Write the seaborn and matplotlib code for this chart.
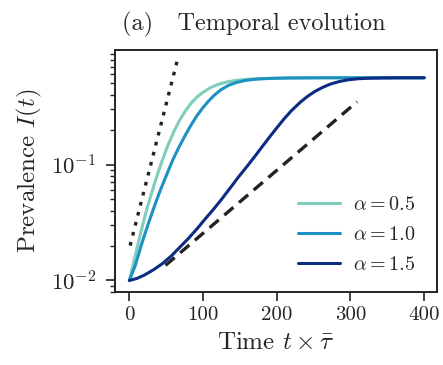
import numpy as np
import pandas as pd
import matplotlib
matplotlib.use("Agg")
import matplotlib.pyplot as plt
import seaborn as sns

# Values
alpha_labels = [r"$\alpha = 0.5$", r"$\alpha = 1.0$", r"$\alpha = 1.5$"]
line_colors = ["#7fcdbb", "#1d91c0", "#0c2c84"]

t_a05 = [0, 6, 12, 18, 24, 31, 38, 45, 52, 60, 68, 76, 84, 92, 100, 110, 120,
         132, 145, 160, 180, 200, 230, 280, 400]
I_a05 = [0.010, 0.0145, 0.021, 0.030, 0.042, 0.059, 0.082, 0.11, 0.145, 0.19,
         0.24, 0.29, 0.34, 0.383, 0.42, 0.46, 0.49, 0.515, 0.532, 0.543, 0.551,
         0.555, 0.558, 0.56, 0.56]

t_a10 = [0, 8, 17, 25, 33, 42, 51, 59, 67, 75, 83, 91, 99, 107, 115, 124, 134,
         145, 158, 172, 190, 215, 260, 400]
I_a10 = [0.010, 0.0135, 0.021, 0.030, 0.042, 0.060, 0.083, 0.11, 0.14, 0.175,
         0.215, 0.26, 0.305, 0.35, 0.395, 0.44, 0.48, 0.51, 0.532, 0.545,
         0.553, 0.558, 0.56, 0.56]

t_a15 = [0, 10, 20, 33, 45, 57, 69, 80, 92, 103, 114, 126, 137, 148, 160, 170,
         180, 190, 200, 210, 220, 232, 242, 252, 262, 273, 285, 297, 310, 325,
         345, 370, 400]
I_a15 = [0.010, 0.0104, 0.0111, 0.0124, 0.0140, 0.0163, 0.0195, 0.023, 0.028,
         0.034, 0.041, 0.051, 0.063, 0.078, 0.097, 0.117, 0.142, 0.172, 0.207,
         0.248, 0.292, 0.345, 0.388, 0.428, 0.462, 0.495, 0.520, 0.538, 0.549,
         0.555, 0.558, 0.56, 0.56]

# guide lines (early and late growth rates)
t_dotted = [1, 65]
I_dotted = [0.020, 0.79]
t_dashed = [49, 309]
I_dashed = [0.0135, 0.348]

xticks = [0, 100, 200, 300, 400]

# Build long table for seaborn
frames = []
for lab, t, I in zip(alpha_labels, [t_a05, t_a10, t_a15], [I_a05, I_a10, I_a15]):
    frames.append(pd.DataFrame({"t": t, "I": I, "alpha": lab}))
df = pd.concat(frames, ignore_index=True)

sns.set_theme(style="ticks")
plt.rcParams["font.family"] = "serif"
plt.rcParams["font.serif"] = ["cmr10", "DejaVu Serif"]
plt.rcParams["mathtext.fontset"] = "cm"
plt.rcParams["axes.formatter.use_mathtext"] = True

fig = plt.figure(figsize=(4.43, 3.65), dpi=100)
ax = fig.add_axes([0.2596, 0.2008, 0.727, 0.6622])

ax.plot(t_dotted, I_dotted, color="#222222", lw=2.4, dashes=(1.1, 2.0), zorder=1)
ax.plot(t_dashed, I_dashed, color="#222222", lw=2.4, dashes=(3.6, 2.2), zorder=1)

sns.lineplot(data=df, x="t", y="I", hue="alpha", hue_order=alpha_labels,
             palette=line_colors, lw=2.2, ax=ax, zorder=3)

ax.set_yscale("log")
ax.set_xlim(-19.5, 417.5)
ax.set_ylim(0.0080, 0.972)
ax.set_xticks(xticks)
ax.set_xticklabels([str(x) for x in xticks])

ax.set_xlabel(r"Time $t \times \bar{\tau}$", fontsize=18, labelpad=6)
ax.set_ylabel(r"Prevalence $I(t)$", fontsize=18, labelpad=5)
ax.set_title("(a)   Temporal evolution", fontsize=17.5, x=0.43, pad=14)

ax.tick_params(axis="both", which="major", length=6.5, width=1.2,
               color="#222222")
ax.tick_params(axis="x", which="major", labelsize=15)
ax.tick_params(axis="y", which="major", labelsize=16.5, pad=7)
ax.tick_params(axis="y", which="minor", length=3.5, width=1.0, color="#222222")
for s in ax.spines.values():
    s.set_linewidth(1.4)
    s.set_color("#222222")

ax.legend(frameon=False, fontsize=14.5, loc="upper left",
          bbox_to_anchor=(0.543, 0.43), borderaxespad=0, handlelength=2.1,
          labelspacing=0.6, handletextpad=0.65)

fig.savefig("out.png", dpi=100)
